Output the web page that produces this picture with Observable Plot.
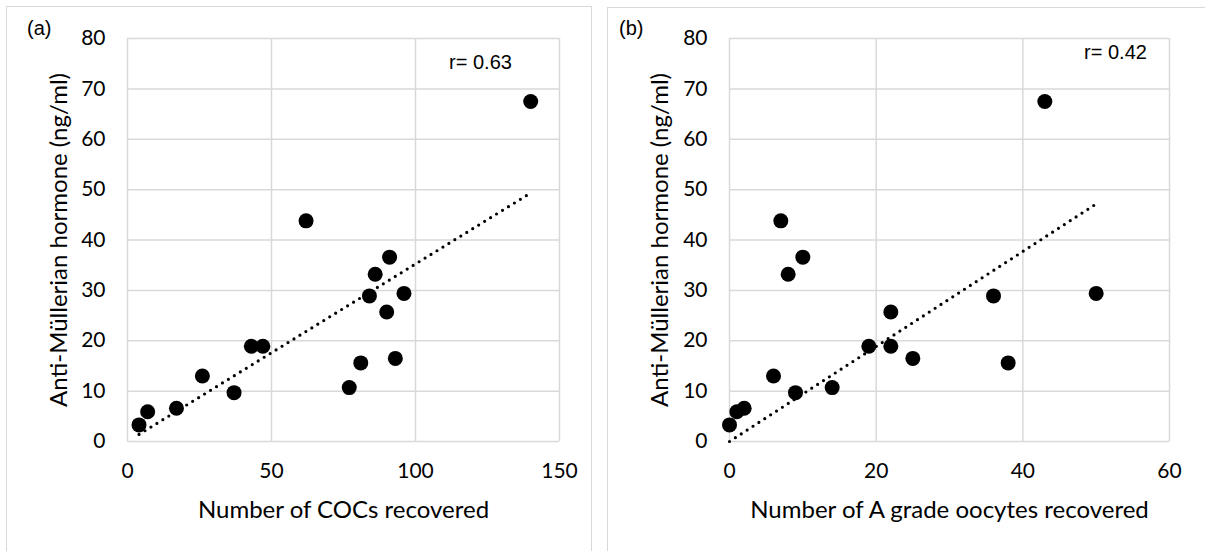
<!DOCTYPE html>
<html>
<head>
<meta charset="utf-8">
<script src="https://cdn.jsdelivr.net/npm/d3@7"></script>
<script src="https://cdn.jsdelivr.net/npm/@observablehq/plot@0.6"></script>
<style>
  html, body { margin: 0; padding: 0; background: #fff; overflow: hidden; }
  #wrap { position: relative; width: 1205px; height: 551px; overflow: hidden; }
  .panel { position: absolute; top: 0; }
  .border { position: absolute; border: 1.5px solid #d9d9d9; box-sizing: border-box; }
  .tag { position: absolute; font-family: "Liberation Sans", Arial, sans-serif; font-size: 20px; color: #000; }
</style>
</head>
<body>
<div id="wrap">
  <div class="border" style="left:6px;top:6px;width:586px;height:600px;"></div>
  <div class="border" style="left:607px;top:7px;width:700px;height:600px;"></div>
  <div class="panel" id="pa" style="left:0px;"></div>
  <div class="panel" id="pb" style="left:600px;"></div>
  <div class="tag" style="left:27px;top:17px;">(a)</div>
  <div class="tag" style="left:619px;top:17px;">(b)</div>
</div>
<script>
// AMH values (ng/ml), one per animal
const amh = [3.3, 5.9, 6.6, 13.0, 9.7, 18.9, 18.9, 43.8, 10.7, 15.6, 28.9, 33.2, 36.6, 25.7, 16.5, 29.4, 67.5];
// Number of COCs recovered (same animal order)
const cocs = [4, 7, 17, 26, 37, 43, 47, 62, 77, 81, 84, 86, 91, 90, 93, 96, 140];
// Number of A grade oocytes recovered (same animal order)
const gradeA = [0, 1, 2, 6, 9, 19, 22, 7, 14, 38, 36, 8, 10, 22, 25, 50, 43];

const xTicksA = [0, 50, 100, 150];
const xTicksB = [0, 20, 40, 60];
const yTicks = [0, 10, 20, 30, 40, 50, 60, 70, 80];
const yLabel = "Anti-Müllerian hormone (ng/ml)";
const xLabelA = "Number of COCs recovered";
const xLabelB = "Number of A grade oocytes recovered";
const rA = "r= 0.63";
const rB = "r= 0.42";

function trend(xs, ys) {
  // Excel-style linear trendline with intercept set to 0
  let sxy = 0, sxx = 0;
  xs.forEach((x, i) => { sxy += x * ys[i]; sxx += x * x; });
  const k = sxy / sxx;
  const lo = d3.min(xs), hi = d3.max(xs);
  return [{x: lo, y: k * lo}, {x: hi, y: k * hi}];
}

const tickFont = "Lato, 'Open Sans', sans-serif";

function panel(xs, ys, xDomain, xTicks, xLabel, rText, opts) {
  const data = xs.map((x, i) => ({x, y: ys[i]}));
  return Plot.plot({
    width: opts.width,
    height: 551,
    marginLeft: opts.ml,
    marginRight: opts.mr,
    marginTop: 38,
    marginBottom: 110,
    style: {fontFamily: tickFont, fontSize: "21px", color: "#000", background: "transparent", overflow: "visible"},
    x: {domain: xDomain, ticks: xTicks},
    y: {domain: [0, 80], ticks: yTicks},
    marks: [
      Plot.gridX(xTicks, {stroke: "#d9d9d9", strokeOpacity: 1, strokeWidth: 1.5}),
      Plot.gridY(yTicks, {stroke: "#d9d9d9", strokeOpacity: 1, strokeWidth: 1.5}),
      Plot.axisX(xTicks, {tickSize: 0, tickPadding: 22, label: null, fontSize: 21}),
      Plot.axisY(yTicks, {tickSize: 0, tickPadding: 22, label: null, fontSize: 21}),
      Plot.line(trend(xs, ys), {x: "x", y: "y", stroke: "#000", strokeWidth: 3.2, strokeDasharray: "0,7", strokeLinecap: "round"}),
      Plot.dot(data, {x: "x", y: "y", r: 7.5, fill: "#000", stroke: null}),
      Plot.text([xLabel], {frameAnchor: "bottom", dy: 69, lineAnchor: "middle", textAnchor: "middle", fontSize: 24}),
      Plot.text([yLabel], {frameAnchor: "left", dx: opts.ydx, rotate: -90, lineAnchor: "middle", textAnchor: "middle", fontSize: 24}),
      Plot.text([rText], {frameAnchor: "top-right", dx: opts.rdx, dy: opts.rdy, lineAnchor: "middle", textAnchor: "middle", fontFamily: "'Liberation Sans', Arial, sans-serif", fontSize: 20})
    ]
  });
}

document.getElementById("pa").append(
  panel(cocs, amh, [0, 150], xTicksA, xLabelA, rA, {width: 600, ml: 127, mr: 41, ydx: -68, rdx: -79, rdy: 24})
);
document.getElementById("pb").append(
  panel(gradeA, amh, [0, 60], xTicksB, xLabelB, rB, {width: 605, ml: 129, mr: 36, ydx: -69, rdx: -54, rdy: 14})
);
</script>
</body>
</html>
